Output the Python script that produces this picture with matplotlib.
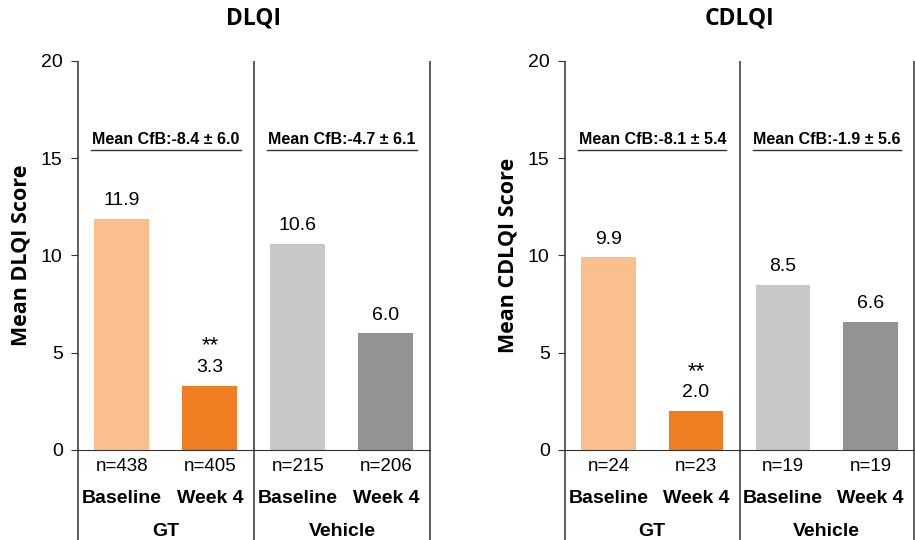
import matplotlib.pyplot as plt
from matplotlib import font_manager

# data
titles = ["DLQI", "CDLQI"]
ylabels = ["Mean DLQI Score", "Mean CDLQI Score"]
groups = ["GT", "Vehicle"]
timepoints = ["Baseline", "Week 4", "Baseline", "Week 4"]
dlqi_values = [11.9, 3.3, 10.6, 6.0]
cdlqi_values = [9.9, 2.0, 8.5, 6.6]
dlqi_n = [438, 405, 215, 206]
cdlqi_n = [24, 23, 19, 19]
dlqi_cfb = ["Mean CfB:-8.4 \u00b1 6.0", "Mean CfB:-4.7 \u00b1 6.1"]
cdlqi_cfb = ["Mean CfB:-8.1 \u00b1 5.4", "Mean CfB:-1.9 \u00b1 5.6"]
stars = ["", "**", "", ""]

colors = ["#F9BF8F", "#EF7D22", "#C7C8CA", "#939393"]
num_font = ["Liberation Sans", "DejaVu Sans"]
head_font = ["Open Sans", "DejaVu Sans"]

installed = {f.name for f in font_manager.fontManager.ttflist}
if "Liberation Sans Narrow" in installed:
    narrow_font, narrow_size = ["Liberation Sans Narrow", "DejaVu Sans"], 13.5
else:
    narrow_font, narrow_size = num_font, 11.5


def plot_panel(ax, title, ylabel, values, ns, cfb):
    x = [0.5, 1.5, 2.5, 3.5]
    ax.bar(x, values, width=0.625, color=colors)
    ax.set_xlim(0, 4)
    ax.set_ylim(0, 20)
    ax.set_yticks([0, 5, 10, 15, 20])
    ax.set_xticks([])
    for s in ["top", "right", "left"]:
        ax.spines[s].set_visible(False)
    ax.spines["bottom"].set_color("#333333")
    ax.tick_params(axis="y", length=5, pad=6, color="#333333", labelsize=14)
    for lab in ax.get_yticklabels():
        lab.set_family(num_font)

    # vertical separators reaching to the bottom of the figure
    ax.vlines([0, 2, 4], -4.7, 20, colors="#333333", linewidth=1.1, clip_on=False)

    for xi, v, n, st, tp in zip(x, values, ns, stars, timepoints):
        ax.text(xi, v + 0.5, f"{v:.1f}", ha="center", va="bottom",
                fontsize=14, family=num_font)
        if st:
            ax.text(xi, v + 1.5, st, ha="center", va="bottom",
                    fontsize=16, family=num_font)
        ax.text(xi, -0.87, f"n={n}", ha="center", va="center",
                fontsize=13.5, family=num_font)
        ax.text(xi, -2.47, tp, ha="center", va="center",
                fontsize=14, fontweight="bold", family=num_font)

    for gx, g, c in zip([1, 3], groups, cfb):
        ax.text(gx, -4.2, g, ha="center", va="center",
                fontsize=14, fontweight="bold", family=num_font)
        ax.text(gx, 15.95, c, ha="center", va="center",
                fontsize=narrow_size, fontweight="bold", family=narrow_font)
        ax.plot([gx - 0.85, gx + 0.85], [15.42, 15.42], color="#333333",
                linewidth=1.0, clip_on=False)

    ax.set_title(title, fontsize=16.5, fontweight="bold", family=head_font, pad=26)
    ax.set_ylabel(ylabel, fontsize=15.5, fontweight="bold", family=head_font, labelpad=7)


fig = plt.figure(figsize=(9.15, 5.4), dpi=100)
ax1 = fig.add_axes([0.0852, 0.1667, 0.3847, 0.7204])
ax2 = fig.add_axes([0.6175, 0.1667, 0.3814, 0.7204])

plot_panel(ax1, titles[0], ylabels[0], dlqi_values, dlqi_n, dlqi_cfb)
plot_panel(ax2, titles[1], ylabels[1], cdlqi_values, cdlqi_n, cdlqi_cfb)

fig.savefig("out.png", dpi=100)
